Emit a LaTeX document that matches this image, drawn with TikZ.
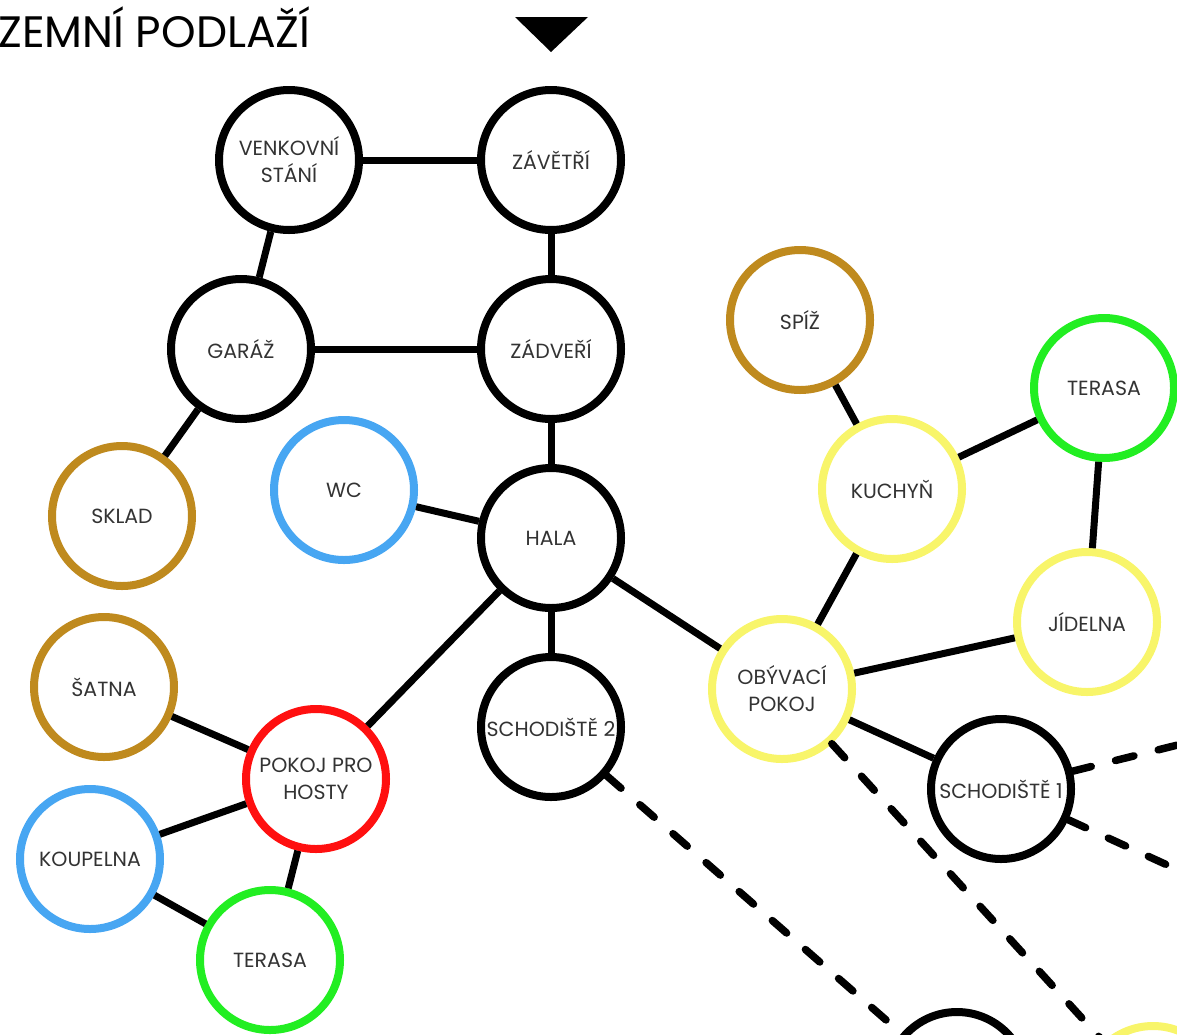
\documentclass[tikz,border=0pt]{standalone}
\usepackage{fontspec}
\setmainfont{Poppins}
\definecolor{txt}{HTML}{333333}
\definecolor{cbrown}{HTML}{BF8A1E}
\definecolor{cyellow}{HTML}{F8F56A}
\definecolor{cgreen}{HTML}{22EE22}
\definecolor{cblue}{HTML}{47A6F2}
\definecolor{cred}{HTML}{FF1010}
\tikzset{
  room/.style={circle, draw=black, line width=8pt, minimum size=140pt, inner sep=0pt,
    align=center, text=txt, font=\fontsize{20.5}{27}\selectfont, fill=white},
  brownroom/.style={room, draw=cbrown},
  yellowroom/.style={room, draw=cyellow},
  greenroom/.style={room, draw=cgreen},
  blueroom/.style={room, draw=cblue},
  redroom/.style={room, draw=cred},
  link/.style={line width=7pt},
  dlink/.style={line width=7.5pt, line cap=round, dash pattern=on 19pt off 25pt},
}
\begin{document}
\begin{tikzpicture}[x=1pt,y=-1pt]
\useasboundingbox (0,0) rectangle (1177,1034);
\clip (0,0) rectangle (1177,1034);
\node[anchor=base west, font=\fontsize{44}{44}\selectfont, inner sep=0pt] (title) at (-2,47) {ZEMNÍ PODLAŽÍ};
\fill[black] (515,17) -- (588,17) -- (551,52) -- cycle;

\coordinate (e1) at (1270,722);
\coordinate (e2) at (1270,912);

\node[room] (ven) at (289,160) {VENKOVNÍ\\STÁNÍ};
\node[room] (zav) at (551,160) {ZÁVĚTŘÍ};
\node[room] (gar) at (241,349) {GARÁŽ};
\node[room] (zad) at (551,349) {ZÁDVEŘÍ};
\node[brownroom] (skl) at (122,516) {SKLAD};
\node[blueroom] (wc) at (344,490) {WC};
\node[room] (hal) at (551,538) {HALA};
\node[brownroom] (spi) at (800,320) {SPÍŽ};
\node[greenroom] (ter1) at (1104,388) {TERASA};
\node[yellowroom] (kuc) at (892,489) {KUCHYŇ};
\node[yellowroom] (jid) at (1087,622) {JÍDELNA};
\node[yellowroom] (oby) at (782,689) {OBÝVACÍ\\POKOJ};
\node[room] (sch2) at (551,727) {SCHODIŠTĚ 2};
\node[brownroom] (sat) at (104,687) {ŠATNA};
\node[redroom] (pok) at (316,779) {POKOJ PRO\\HOSTY};
\node[room] (sch1) at (1001,789) {SCHODIŠTĚ 1};
\node[blueroom] (kou) at (90,859) {KOUPELNA};
\node[greenroom] (ter2) at (270,960) {TERASA};
\node[room] (bot1) at (957,1082) {};
\node[yellowroom] (bot2) at (1153,1096) {};

\draw[link] (ven) -- (zav);
\draw[link] (ven) -- (gar);
\draw[link] (zav) -- (zad);
\draw[link] (gar) -- (zad);
\draw[link] (gar) -- (skl);
\draw[link] (zad) -- (hal);
\draw[link] (wc) -- (hal);
\draw[link] (hal) -- (sch2);
\draw[link] (hal) -- (pok);
\draw[link] (hal) -- (oby);
\draw[link] (spi) -- (kuc);
\draw[link] (kuc) -- (ter1);
\draw[link] (ter1) -- (jid);
\draw[link] (kuc) -- (oby);
\draw[link] (oby) -- (jid);
\draw[link] (oby) -- (sch1);
\draw[link] (sat) -- (pok);
\draw[link] (kou) -- (pok);
\draw[link] (pok) -- (ter2);
\draw[link] (kou) -- (ter2);
\draw[dlink] (sch2) -- (bot1);
\draw[dlink] (oby) -- (bot2);
\draw[dlink] (sch1) -- (e1);
\draw[dlink] (sch1) -- (e2);
\end{tikzpicture}
\end{document}
